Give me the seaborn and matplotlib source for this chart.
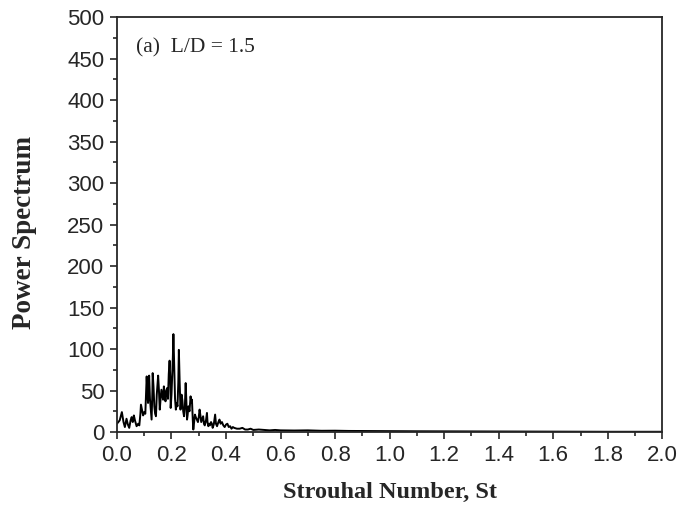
import numpy as np
import pandas as pd
import matplotlib
matplotlib.use("Agg")
import matplotlib.pyplot as plt
import seaborn as sns
from matplotlib.ticker import MultipleLocator

# Strouhal number / power spectrum (L/D = 1.5)
st = [0.000, 0.010, 0.018, 0.024, 0.029, 0.035, 0.040, 0.045, 0.050, 0.054,
      0.058, 0.062, 0.066, 0.072, 0.078, 0.082, 0.086, 0.088, 0.093, 0.096,
      0.100, 0.104, 0.106, 0.109, 0.112, 0.114, 0.117, 0.118, 0.121, 0.124,
      0.127, 0.130, 0.131, 0.134, 0.137, 0.140, 0.143, 0.146, 0.151, 0.154,
      0.157, 0.160, 0.163, 0.166, 0.169, 0.172, 0.175, 0.178, 0.181, 0.184,
      0.187, 0.190, 0.193, 0.196, 0.197, 0.200, 0.202, 0.205, 0.207, 0.210,
      0.213, 0.216, 0.219, 0.222, 0.225, 0.227, 0.230, 0.233, 0.236, 0.237,
      0.240, 0.243, 0.246, 0.249, 0.252, 0.254, 0.257, 0.259, 0.262, 0.266,
      0.268, 0.270, 0.273, 0.275, 0.278, 0.280, 0.283, 0.286, 0.289, 0.293,
      0.297, 0.300, 0.303, 0.306, 0.309, 0.312, 0.316, 0.319, 0.322, 0.327,
      0.330, 0.332, 0.335, 0.338, 0.341, 0.345, 0.348, 0.351, 0.355, 0.360,
      0.363, 0.367, 0.372, 0.376, 0.380, 0.385, 0.390, 0.395, 0.400, 0.405,
      0.410, 0.415, 0.420, 0.425, 0.430, 0.440, 0.450, 0.460, 0.470, 0.480,
      0.490, 0.500, 0.520, 0.540, 0.560, 0.580, 0.600, 0.650, 0.700, 0.750,
      0.800, 0.850, 0.900, 0.950, 1.000, 1.100, 1.200, 1.300, 1.400, 1.500,
      1.600, 1.700, 1.800, 1.900, 2.000]
power = [10, 14, 24, 12, 6, 16, 9, 5, 14, 18,
         12, 20, 14, 7, 10, 8, 22, 33, 25, 20,
         24, 22, 40, 67, 45, 35, 58, 68, 40, 27,
         15, 50, 71, 55, 31, 22, 19, 45, 68, 50,
         27, 40, 51, 45, 39, 55, 45, 37, 50, 53,
         40, 70, 86, 60, 29, 45, 63, 90, 118, 80,
         40, 27, 35, 31, 60, 99, 60, 27, 40, 45,
         38, 25, 19, 30, 59, 40, 15, 20, 31, 25,
         35, 43, 35, 39, 15, 3, 12, 21, 18, 15,
         12, 18, 27, 20, 12, 15, 19, 10, 8, 15,
         23, 12, 7, 10, 8, 12, 10, 5, 9, 21,
         10, 7, 12, 15, 10, 12, 8, 6, 9, 10,
         6, 7, 4, 6, 5, 4, 4, 5, 3, 3,
         4, 2.5, 3, 2.5, 2, 2.5, 2, 1.8, 2, 1.5,
         1.6, 1.3, 1.2, 1.1, 1.0, 0.9, 0.8, 0.6, 0.5, 0.5,
         0.4, 0.4, 0.3, 0.3, 0.3]

df = pd.DataFrame({"St": st, "P": power})

sns.set_style("ticks")
plt.rcParams["font.family"] = ["Liberation Sans", "DejaVu Sans"]

fig = plt.figure(figsize=(6.8, 5.14), dpi=100)
ax = fig.add_axes([0.172, 0.1595, 0.802, 0.807])
sns.lineplot(data=df, x="St", y="P", ax=ax, color="black", linewidth=1.4,
             estimator=None, sort=False)

ax.set_xlim(0, 2.0)
ax.set_ylim(0, 500)
ax.xaxis.set_major_locator(MultipleLocator(0.2))
ax.xaxis.set_minor_locator(MultipleLocator(0.1))
ax.yaxis.set_major_locator(MultipleLocator(50))
ax.yaxis.set_minor_locator(MultipleLocator(25))
ax.set_xticklabels([f"{v:.1f}" for v in ax.get_xticks()])
ax.tick_params(which="major", direction="out", length=5, width=1.2, labelsize=16, pad=4)
ax.tick_params(which="minor", direction="out", length=3, width=1.2)
for s in ax.spines.values():
    s.set_linewidth(1.3)

serif = ["Liberation Serif", "DejaVu Serif"]
ax.set_xlabel("Strouhal Number, St", family=serif, fontweight="bold", fontsize=17.5, labelpad=12)
ax.set_ylabel("Power Spectrum", family=serif, fontweight="bold", fontsize=19.5)
ax.yaxis.set_label_coords(-0.146, 0.482)
ax.text(0.034, 0.926, "(a)  L/D = 1.5", transform=ax.transAxes, family=serif,
        fontsize=15.5, va="center", ha="left")

fig.savefig("out.png", dpi=100)
